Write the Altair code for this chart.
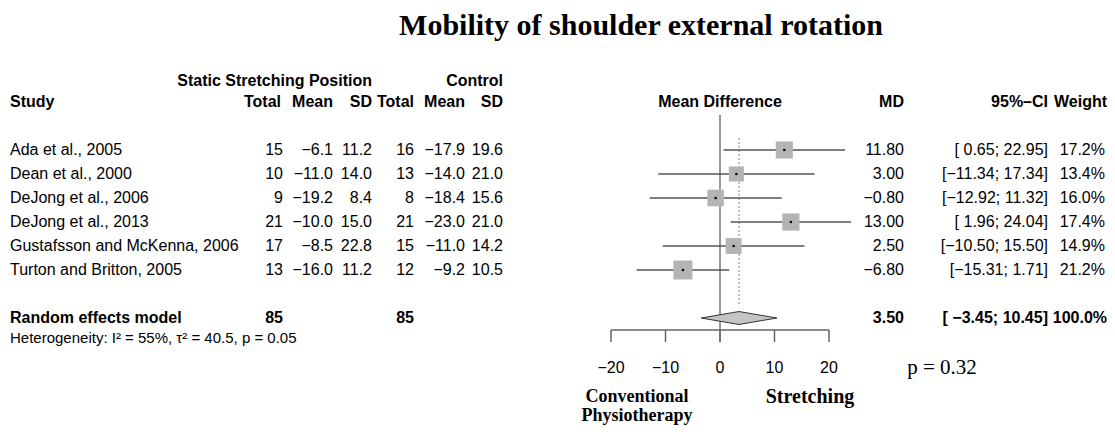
import altair as alt
import pandas as pd

# ---------------- data ----------------
studies = ["Ada et al., 2005", "Dean et al., 2000", "DeJong et al., 2006",
           "DeJong et al., 2013", "Gustafsson and McKenna, 2006", "Turton and Britton, 2005"]
exp_total = [15, 10, 9, 21, 17, 13]
exp_mean = [-6.1, -11.0, -19.2, -10.0, -8.5, -16.0]
exp_sd = [11.2, 14.0, 8.4, 15.0, 22.8, 11.2]
ctl_total = [16, 13, 8, 21, 15, 12]
ctl_mean = [-17.9, -14.0, -18.4, -23.0, -11.0, -9.2]
ctl_sd = [19.6, 21.0, 15.6, 21.0, 14.2, 10.5]
md = [11.80, 3.00, -0.80, 13.00, 2.50, -6.80]
ci_low = [0.65, -11.34, -12.92, 1.96, -10.50, -15.31]
ci_high = [22.95, 17.34, 11.32, 24.04, 15.50, 1.71]
weight = [17.2, 13.4, 16.0, 17.4, 14.9, 21.2]

pooled_label = ["Random effects model"]
pooled_n_exp = [85]
pooled_n_ctl = [85]
pooled_md = [3.50]
pooled_low = [-3.45]
pooled_high = [10.45]
pooled_weight = [100.0]
heterogeneity = ["Heterogeneity: I\u00b2 = 55%, \u03c4\u00b2 = 40.5, p = 0.05"]
p_value = ["p = 0.32"]

axis_ticks = [-20, -10, 0, 10, 20]

title_text = "Mobility of shoulder external rotation"
group_exp = "Static Stretching Position"
group_ctl = "Control"
col_headers = ["Total", "Mean", "SD", "Total", "Mean", "SD"]
left_label = ["Conventional", "Physiotherapy"]
right_label = ["Stretching"]

# ---------------- helpers ----------------
MINUS = "\u2212"


def fmt(v, d):
    return f"{v:.{d}f}".replace("-", MINUS)


def ci_str(lo, hi):
    return "[" + fmt(lo, 2).rjust(6) + "; " + fmt(hi, 2).rjust(5) + "]"


rows = list(range(len(studies)))
df = pd.DataFrame({
    "row": rows,
    "study": studies,
    "et": [str(v) for v in exp_total],
    "em": [fmt(v, 1) for v in exp_mean],
    "es": [fmt(v, 1) for v in exp_sd],
    "ct": [str(v) for v in ctl_total],
    "cm": [fmt(v, 1) for v in ctl_mean],
    "cs": [fmt(v, 1) for v in ctl_sd],
    "md": md,
    "low": ci_low,
    "high": ci_high,
    "weight": weight,
    "md_s": [fmt(v, 2) for v in md],
    "ci_s": [ci_str(l, h) for l, h in zip(ci_low, ci_high)],
    "w_s": [f"{w:.1f}%" for w in weight],
})

POOL_ROW = 7
dfp = pd.DataFrame({
    "row": [POOL_ROW],
    "label": pooled_label,
    "et": [str(v) for v in pooled_n_exp],
    "ct": [str(v) for v in pooled_n_ctl],
    "md": pooled_md,
    "md_s": [fmt(v, 2) for v in pooled_md],
    "ci_s": [ci_str(l, h) for l, h in zip(pooled_low, pooled_high)],
    "w_s": [f"{w:.1f}%" for w in pooled_weight],
})

HALF = 0.27
diamond = pd.DataFrame({
    "x": [pooled_low[0], pooled_md[0], pooled_high[0]],
    "yt": [POOL_ROW, POOL_ROW - HALF, POOL_ROW],
    "yb": [POOL_ROW, POOL_ROW + HALF, POOL_ROW],
})

dft = pd.DataFrame({"t": axis_ticks, "lab": [fmt(t, 0) for t in axis_ticks]})
dfa = pd.DataFrame({"a": [min(axis_ticks)], "b": [max(axis_ticks)]})
one = pd.DataFrame({"k": [0]})

W, H = 1099, 419
xs = alt.Scale(domain=[-130.642, 71.009], nice=False, zero=False)
ys = alt.Scale(domain=[-5.9167, 11.5417], nice=False, zero=False, reverse=True)

SANS = "Liberation Sans"
SERIF = "Liberation Serif"
FS = 16


def X(field, **kw):
    return alt.X(field, type="quantitative", scale=xs, axis=None, **kw)


def Y(field, **kw):
    return alt.Y(field, type="quantitative", scale=ys, axis=None, **kw)


def col(data, field, x, y="row", align="right", bold=False, size=FS, font=SANS):
    return alt.Chart(data).mark_text(
        align=align, baseline="middle", fontSize=size, font=font,
        fontWeight="bold" if bold else "normal", color="black"
    ).encode(x=alt.value(x), y=Y(y), text=alt.Text(field, type="nominal"))


def label(text, x, yval, align="right", bold=False, size=FS, font=SANS):
    return alt.Chart(one).mark_text(
        text=text, align=align, baseline="middle", fontSize=size, font=font,
        fontWeight="bold" if bold else "normal", color="black"
    ).encode(x=alt.value(x), y=alt.Y(datum=yval, type="quantitative", scale=ys, axis=None))


layers = []

# forest graphics
layers.append(alt.Chart(one).mark_rule(color="#777777", strokeWidth=1.5).encode(
    x=alt.X(datum=0, type="quantitative", scale=xs, axis=None),
    y=alt.Y(datum=-1.46, type="quantitative", scale=ys, axis=None),
    y2=alt.datum(8.0)))
layers.append(alt.Chart(dfp).mark_rule(color="#999999", strokeWidth=1.2, strokeDash=[2, 2]).encode(
    x=X("md"), y=alt.Y(datum=-0.5, type="quantitative", scale=ys, axis=None), y2=alt.datum(6.45)))
layers.append(alt.Chart(df).mark_rule(color="#555555", strokeWidth=1.4).encode(
    x=X("low"), x2="high", y=Y("row")))
layers.append(alt.Chart(df).mark_square(color="#b4b4b4", opacity=1).encode(
    x=X("md"), y=Y("row"),
    size=alt.Size("weight:Q", scale=alt.Scale(domain=[0, 21.2], range=[0, 361]), legend=None)))
layers.append(alt.Chart(df).mark_square(color="black", opacity=1, size=5).encode(
    x=X("md"), y=Y("row")))
layers.append(alt.Chart(diamond).mark_area(fill="#c4c4c4", stroke="#333333", strokeWidth=1, opacity=1).encode(
    x=X("x"), y=Y("yt"), y2="yb"))

# axis
layers.append(alt.Chart(dfa).mark_rule(color="#666666", strokeWidth=1.5).encode(
    x=X("a"), x2="b", y=alt.Y(datum=7.5, type="quantitative", scale=ys, axis=None)))
layers.append(alt.Chart(dft).mark_rule(color="#666666", strokeWidth=1.5).encode(
    x=X("t"), y=alt.Y(datum=7.5, type="quantitative", scale=ys, axis=None), y2=alt.datum(8.0)))
layers.append(alt.Chart(dft).mark_text(fontSize=FS, font=SANS, color="black", baseline="middle").encode(
    x=X("t"), y=alt.Y(datum=9.08, type="quantitative", scale=ys, axis=None), text="lab:N"))

# title and headers
layers.append(label(title_text, 633, -5.15, align="center", bold=True, size=30, font=SERIF))
layers.append(label(group_exp, 364, -2.875, bold=True))
layers.append(label(group_ctl, 495, -2.875, bold=True))
layers.append(label("Study", 2, -2, align="left", bold=True))
for h, xp in zip(col_headers, [273, 325, 364, 406, 457, 495]):
    layers.append(label(h, xp, -2, bold=True))
layers.append(alt.Chart(one).mark_text(text="Mean Difference", fontSize=FS, font=SANS,
                                       fontWeight="bold", color="black", baseline="middle").encode(
    x=alt.X(datum=0, type="quantitative", scale=xs, axis=None),
    y=alt.Y(datum=-2, type="quantitative", scale=ys, axis=None)))
layers.append(label("MD", 896, -2, bold=True))
layers.append(label("95%\u2013CI", 1040, -2, bold=True))
layers.append(label("Weight", 1099, -2, bold=True))

# study rows
layers.append(col(df, "study", 2, align="left"))
for f, xp in zip(["et", "em", "es", "ct", "cm", "cs"], [275, 325, 364, 406, 457, 495]):
    layers.append(col(df, f, xp))
layers.append(col(df, "md_s", 896))
layers.append(col(df, "ci_s", 1040))
layers.append(col(df, "w_s", 1097))

# pooled row
layers.append(col(dfp, "label", 2, align="left", bold=True))
layers.append(col(dfp, "et", 275, bold=True))
layers.append(col(dfp, "ct", 406, bold=True))
layers.append(col(dfp, "md_s", 896, bold=True))
layers.append(col(dfp, "ci_s", 1040, bold=True))
layers.append(col(dfp, "w_s", 1099, bold=True))
layers.append(label(heterogeneity[0], 2, 7.85, align="left", size=15))

# bottom labels
layers.append(label(p_value[0], 934, 9.08, align="center", size=21, font=SERIF))
layers.append(label(left_label[0], 629, 10.3, align="center", bold=True, size=18, font=SERIF))
layers.append(label(left_label[1], 629, 11.1, align="center", bold=True, size=18, font=SERIF))
layers.append(label(right_label[0], 802, 10.3, align="center", bold=True, size=20, font=SERIF))

chart = alt.layer(*layers).properties(
    width=W, height=H, padding=0,
    autosize=alt.AutoSizeParams(type="none"),
    background="white",
).configure_view(stroke=None)

chart.save("out.html", embed_options={"renderer": "svg", "actions": False})
